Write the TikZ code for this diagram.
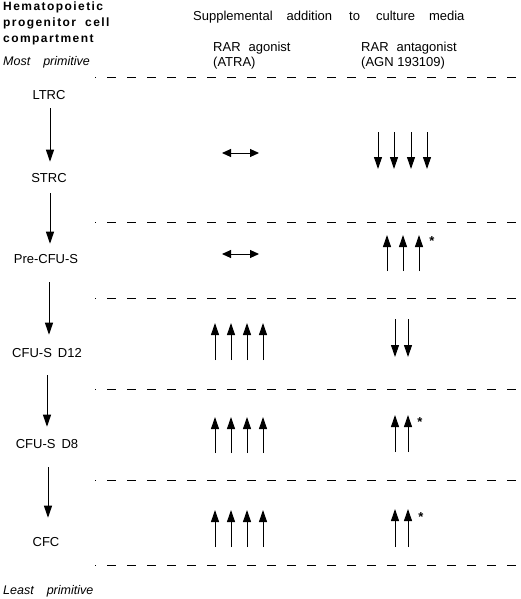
\documentclass[tikz,border=0pt]{standalone}
\usepackage{fontspec}
\setmainfont{Liberation Sans}
\newfontfamily\hdfont[LetterSpace=12]{Liberation Sans}
\usetikzlibrary{arrows.meta}
\begin{document}
\begin{tikzpicture}[x=1pt,y=-1pt,
  lbl/.style={anchor=base, inner sep=0pt, font=\fontsize{13}{15}\selectfont},
  lblw/.style={lbl, anchor=base west},
  hd/.style={anchor=base west, inner sep=0pt, font=\hdfont\bfseries\fontsize{12}{14}\selectfont},
  arr/.style={-{Triangle[width=8pt,length=12pt]}, line width=1pt},
  darr/.style={{Triangle[width=8pt,length=9pt]}-{Triangle[width=8pt,length=9pt]}, line width=1pt},
  sepline/.style={dash pattern=on 9pt off 11pt, line width=0.9pt},
  star/.style={inner sep=0pt, font=\bfseries\fontsize{13}{14}\selectfont}]
\useasboundingbox (0,0) rectangle (520,599);

% header
\node[hd] (h1) at (3,11) {Hematopoietic};
\node[hd] (h2) at (3,27) {progenitor\hspace{9pt}cell};
\node[hd] (h3) at (3,43) {compartment};
\node[lblw, font=\itshape\fontsize{12.5}{14}\selectfont] (mp) at (3,66) {Most\hspace{13pt}primitive};
\node[lblw] (supp) at (193,21) {Supplemental\hspace{14pt}addition\hspace{17pt}to\hspace{16pt}culture\hspace{14pt}media};
\node[lblw] (ag1) at (213,52) {RAR\hspace{8pt}agonist};
\node[lblw] (ag2) at (213,67) {(ATRA)};
\node[lblw] (an1) at (361,52) {RAR\hspace{8pt}antagonist};
\node[lblw] (an2) at (361,67) {(AGN 193109)};
\node[lblw, font=\itshape\fontsize{12.5}{14}\selectfont] (lp) at (3,594) {Least\hspace{13pt}primitive};

% separators
\foreach \y in {77,222,298,389,480,565}{
  \draw[line width=0.9pt] (95,\y) -- (96,\y);
  \draw[sepline] (107,\y) -- (520,\y);
}

% cell compartments
\node[lbl] (ltrc) at (49,100) {LTRC};
\node[lbl] (strc) at (49,182) {STRC};
\node[lbl] (pre) at (46,263) {Pre-CFU-S};
\node[lbl] (d12) at (47,357) {CFU-S\hspace{6pt}D12};
\node[lbl] (d8) at (47,448) {CFU-S\hspace{6pt}D8};
\node[lbl] (cfc) at (46,546) {CFC};

\draw[arr] ([xshift=1pt,yshift=-8pt]ltrc.south) -- ([xshift=1pt,yshift=11pt]strc.north);
\draw[arr] ([xshift=1pt,yshift=-11pt]strc.south) -- ([xshift=4pt,yshift=10pt]pre.north);
\draw[arr] ([xshift=3pt,yshift=-19pt]pre.south) -- ([xshift=2pt,yshift=13pt]d12.north);
\draw[arr] ([xshift=0pt,yshift=-18pt]d12.south) -- ([yshift=12pt]d8.north);
\draw[arr] ([xshift=1pt,yshift=-19pt]d8.south) -- ([xshift=2pt,yshift=19pt]cfc.north);

% ATRA column
\draw[darr] (222,153) -- (259,153);
\draw[darr] (222,254) -- (259,254);
\foreach \x in {215,231,247,263}{
  \draw[arr] (\x,360) -- (\x,323);
  \draw[arr] (\x,453) -- (\x,417);
  \draw[arr] (\x,547) -- (\x,510);
}

% AGN column
\foreach \x in {378,394,411,427}{
  \draw[arr] (\x,132) -- (\x,169);
}
\foreach \x in {387,403,419}{
  \draw[arr] (\x,271) -- (\x,235);
}
\foreach \x in {395,408}{
  \draw[arr] (\x,319) -- (\x,357);
  \draw[arr] (\x,452) -- (\x,415);
  \draw[arr] (\x,547) -- (\x,509);
}
\node[star] (s1) at (432,241) {*};
\node[star] (s2) at (420,422) {*};
\node[star] (s3) at (421,517) {*};
\end{tikzpicture}
\end{document}
